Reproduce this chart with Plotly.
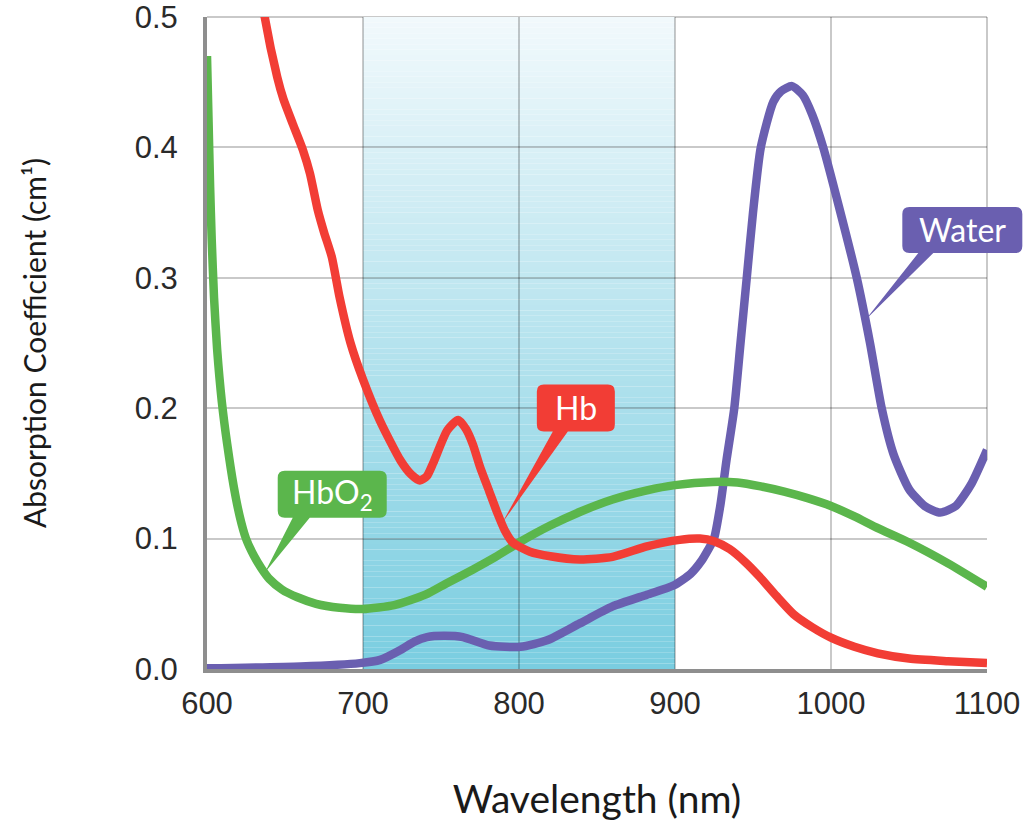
import numpy as np
import plotly.graph_objects as go

# ---------------- data ----------------
x_ticks = [600, 700, 800, 900, 1000, 1100]
y_ticks = [0.0, 0.1, 0.2, 0.3, 0.4, 0.5]
x_range = [600, 1100]
y_range = [0.0, 0.5]
window_band = [700, 900]   # shaded NIR window (nm)

wl_hbo2 = [600, 601, 602, 603, 604.5, 606.5, 609.5, 613, 617, 621, 625, 630, 635, 640, 648,
           658, 670, 685, 700, 720, 740, 754, 770, 785, 800, 820, 840, 860, 882, 900, 924,
           940, 955, 970, 985, 1000, 1015, 1030, 1050, 1075, 1100]
abs_hbo2 = [0.47, 0.42, 0.37, 0.33, 0.285, 0.245, 0.205, 0.172, 0.141, 0.117, 0.100, 0.087,
            0.077, 0.069, 0.061, 0.055, 0.050, 0.047, 0.046, 0.049, 0.057, 0.066, 0.076,
            0.086, 0.097, 0.110, 0.121, 0.130, 0.137, 0.141, 0.1435, 0.143, 0.140, 0.136,
            0.131, 0.125, 0.117, 0.108, 0.097, 0.081, 0.063]

wl_hb = [630, 637, 645, 649, 655, 661.5, 666, 671, 675, 680, 685, 692, 700, 711, 724,
         731, 736.5, 741, 745, 754, 761, 766, 770.5, 775, 781, 786, 791, 796, 807, 820,
         839, 860, 882, 903, 916, 925, 935, 945, 954, 965, 976, 988, 1000, 1015, 1030,
         1050, 1075, 1100]
abs_hb = [0.56, 0.50, 0.454, 0.437, 0.418, 0.398, 0.38, 0.352, 0.335, 0.316, 0.285, 0.25,
          0.222, 0.19, 0.160, 0.149, 0.1445, 0.148, 0.158, 0.183, 0.191, 0.184, 0.172,
          0.155, 0.136, 0.12, 0.106, 0.097, 0.090, 0.0865, 0.084, 0.086, 0.094, 0.099,
          0.100, 0.098, 0.092, 0.082, 0.071, 0.056, 0.042, 0.032, 0.024, 0.017, 0.012,
          0.008, 0.006, 0.0045]

wl_water = [600, 660, 698, 711, 724, 733, 741, 752, 764, 781, 801, 818, 839, 860, 882, 899,
            910, 917, 921, 925, 929, 933, 938, 942, 946, 950, 955, 963, 968, 975, 982, 988,
            995, 1005, 1016.5, 1025, 1032.5, 1040, 1050, 1060, 1070, 1080, 1090, 1100]
abs_water = [0.0005, 0.002, 0.0045, 0.007, 0.0146, 0.021, 0.0245, 0.0255, 0.0245, 0.018,
             0.017, 0.022, 0.035, 0.048, 0.057, 0.064, 0.073, 0.083, 0.091, 0.10, 0.125,
             0.16, 0.20, 0.25, 0.30, 0.35, 0.40, 0.435, 0.443, 0.447, 0.44, 0.425, 0.40,
             0.355, 0.30, 0.25, 0.20, 0.165, 0.138, 0.125, 0.120, 0.125, 0.142, 0.168]

RED = "#f23d35"
GREEN = "#5bb64c"
PURPLE = "#6a5fb0"
GRID = "rgba(0,0,0,0.21)"

# ---------------- figure ----------------
fig = go.Figure()

# gradient shading of the 700-900 nm window, drawn below the grid lines
n_steps = 120
bottom_rgb = np.array([122, 205, 224])
top_rgb = np.array([241, 249, 252])
for i in range(n_steps):
    t = (i + 0.5) / n_steps
    c = bottom_rgb + (top_rgb - bottom_rgb) * t
    y0 = y_range[0] + (y_range[1] - y_range[0]) * i / n_steps
    y1 = y_range[0] + (y_range[1] - y_range[0]) * (i + 1) / n_steps
    fig.add_shape(type="rect", xref="x", yref="y", x0=window_band[0], x1=window_band[1],
                  y0=y0, y1=y1, fillcolor="rgb(%d,%d,%d)" % tuple(c.round().astype(int)),
                  line=dict(width=0), layer="below")

# frame lines at the top and right edge (grid lines at the range ends)
fig.add_shape(type="line", xref="paper", yref="paper", x0=0, x1=1, y0=1, y1=1,
              line=dict(color=GRID, width=2), layer="below")
fig.add_shape(type="line", xref="paper", yref="paper", x0=1, x1=1, y0=0.32, y1=1,
              line=dict(color=GRID, width=2), layer="below")

line_w = 8.5
fig.add_trace(go.Scatter(x=wl_water, y=abs_water, mode="lines", name="Water",
                         line=dict(color=PURPLE, width=line_w, shape="spline", smoothing=0.6)))
fig.add_trace(go.Scatter(x=wl_hbo2, y=abs_hbo2, mode="lines", name="HbO2",
                         line=dict(color=GREEN, width=line_w, shape="spline", smoothing=0.6)))
fig.add_trace(go.Scatter(x=wl_hb, y=abs_hb, mode="lines", name="Hb",
                         line=dict(color=RED, width=line_w, shape="spline", smoothing=0.6)))


def to_paper_x(v):
    return (v - x_range[0]) / (x_range[1] - x_range[0])


def to_paper_y(v):
    return (v - y_range[0]) / (y_range[1] - y_range[0])


def callout(text, color, tip_wl, wl, vals, box, base, r=7):
    """box = (x0, x1, y0, y1) pixel offsets from the tip (y up); base = (xl, xr) on box bottom."""
    tip_v = float(np.interp(tip_wl, wl, vals))
    x0, x1, y0, y1 = box
    bl, br = base
    path = (f"M 0,0 L {br},{y0} L {x1 - r},{y0} Q {x1},{y0} {x1},{y0 + r} "
            f"L {x1},{y1 - r} Q {x1},{y1} {x1 - r},{y1} L {x0 + r},{y1} Q {x0},{y1} {x0},{y1 - r} "
            f"L {x0},{y0 + r} Q {x0},{y0} {x0 + r},{y0} L {bl},{y0} Z")
    fig.add_shape(type="path", xref="paper", yref="paper",
                  xsizemode="pixel", ysizemode="pixel",
                  xanchor=to_paper_x(tip_wl), yanchor=to_paper_y(tip_v),
                  path=path, fillcolor=color, line=dict(width=0), layer="above")
    fig.add_annotation(xref="paper", yref="paper", x=to_paper_x(tip_wl), y=to_paper_y(tip_v),
                       xshift=(x0 + x1) / 2, yshift=(y0 + y1) / 2, text=text, showarrow=False,
                       font=dict(family="Lato", size=32, color="white"),
                       xanchor="center", yanchor="middle")


callout("HbO<sub>2</sub>", GREEN, 637, wl_hbo2, abs_hbo2, (13, 122, 55, 102), (28, 45))
callout("Hb", RED, 789, wl_hb, abs_hb, (35, 113, 92, 139), (51, 66))
callout("Water", PURPLE, 1022, wl_water, abs_water, (37, 157, 67, 113), (53, 68))

fig.update_xaxes(range=x_range, tickvals=x_ticks, ticktext=[str(v) for v in x_ticks],
                 showgrid=True, gridcolor=GRID, gridwidth=2, zeroline=False,
                 showline=True, linecolor="#8e8e8e", linewidth=4, ticks="",
                 ticklabelstandoff=4, automargin=False, ticklabeloverflow="allow",
                 tickfont=dict(family="Liberation Sans", size=31, color="#2a2a2a"),
                 title=dict(text="Wavelength (nm)", standoff=95,
                            font=dict(family="Lato", size=39, color="#1a1a1a")))
fig.update_yaxes(range=y_range, tickvals=y_ticks, tickformat=".1f",
                 showgrid=True, gridcolor=GRID, gridwidth=2, zeroline=False,
                 showline=True, linecolor="#8e8e8e", linewidth=4, ticks="",
                 ticklabelstandoff=19, automargin=False, ticklabeloverflow="allow",
                 tickfont=dict(family="Liberation Sans", size=31, color="#2a2a2a"),
                 title=dict(text="Absorption Coefficient (cm¹)", standoff=80,
                            font=dict(family="Lato", size=30, color="#1a1a1a")))

fig.update_layout(width=1028, height=821, showlegend=False,
                  paper_bgcolor="white", plot_bgcolor="white",
                  margin=dict(l=207, r=41, t=17, b=152))

fig.write_html("out.html", config={"displayModeBar": False},
               post_script="document.body.style.margin='0';document.body.style.overflow='hidden';")
